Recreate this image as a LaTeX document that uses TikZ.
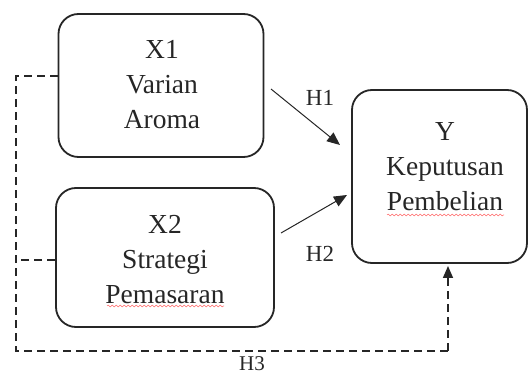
\documentclass[tikz,border=0pt]{standalone}
\usepackage{fontspec}
\setmainfont{Liberation Serif}
\usetikzlibrary{arrows.meta,decorations.pathmorphing,calc}
\begin{document}
\begin{tikzpicture}[x=1pt,y=-1pt,
  box/.style={draw=black!85,line width=1.8pt,rounded corners=20pt,inner sep=0pt},
  txt/.style={align=center,font=\fontsize{27.5}{35}\selectfont,text=black!85,inner sep=0pt},
  hlab/.style={font=\fontsize{23}{26}\selectfont,text=black!85,inner sep=0pt},
  arr/.style={draw=black!85,line width=1pt,-{Triangle[length=13pt,width=11pt]}},
  dsh/.style={draw=black!85,line width=1.6pt,dash pattern=on 8pt off 5pt},
  wavy/.style={draw=red!60,line width=0.5pt,decorate,decoration={snake,amplitude=0.9pt,segment length=4pt}}]
\useasboundingbox (0,0) rectangle (528,374);
% boxes
\node[box,minimum width=205pt,minimum height=143pt] (x1) at (161,85.5) {};
\node[box,minimum width=218pt,minimum height=139pt] (x2) at (165,257.5) {};
\node[box,minimum width=175pt,minimum height=173pt] (y) at (439.5,176.5) {};
% texts
\node[txt] (t1) at (162,85) {X1\\Varian\\Aroma};
\node[txt] (t2) at (165,259.5) {X2\\Strategi\\Pemasaran};
\node[txt] (ty) at (445,166.5) {Y\\Keputusan\\Pembelian};
% spell-check underlines
\coordinate (w1a) at (107,306); \coordinate (w1b) at (224,306);
\coordinate (w2a) at (387,215); \coordinate (w2b) at (504,215);
\draw[wavy] (w1a) -- (w1b);
\draw[wavy] (w2a) -- (w2b);
% H1, H2 arrows
\coordinate (h1s) at (271,89); \coordinate (h1e) at (340,145);
\coordinate (h2s) at (281,233); \coordinate (h2e) at (347,195);
\draw[arr] (h1s) -- (h1e);
\draw[arr] (h2s) -- (h2e);
\node[hlab] (l1) at (320,98) {H1};
\node[hlab] (l2) at (320,254) {H2};
% H3 dashed
\coordinate (d1) at (16,76);
\coordinate (d2) at (16,260);
\coordinate (d3) at (16,351);
\coordinate (d4) at (448,351);
\coordinate (d5) at (448,266);
\coordinate (d6) at (448,278);
\draw[dsh] (x1.west |- d1) -- (d1) -- (d3) -- (d4);
\draw[dsh] (x2.west |- d2) -- (d2);
\draw[dsh] (d4) -- (d6);
\draw[draw=black!85,line width=1.6pt,-{Triangle[length=12pt,width=10pt]}] (d6) -- (d5);
\node[hlab,font=\fontsize{21}{24}\selectfont] (l3) at (252,364) {H3};
\end{tikzpicture}
\end{document}
